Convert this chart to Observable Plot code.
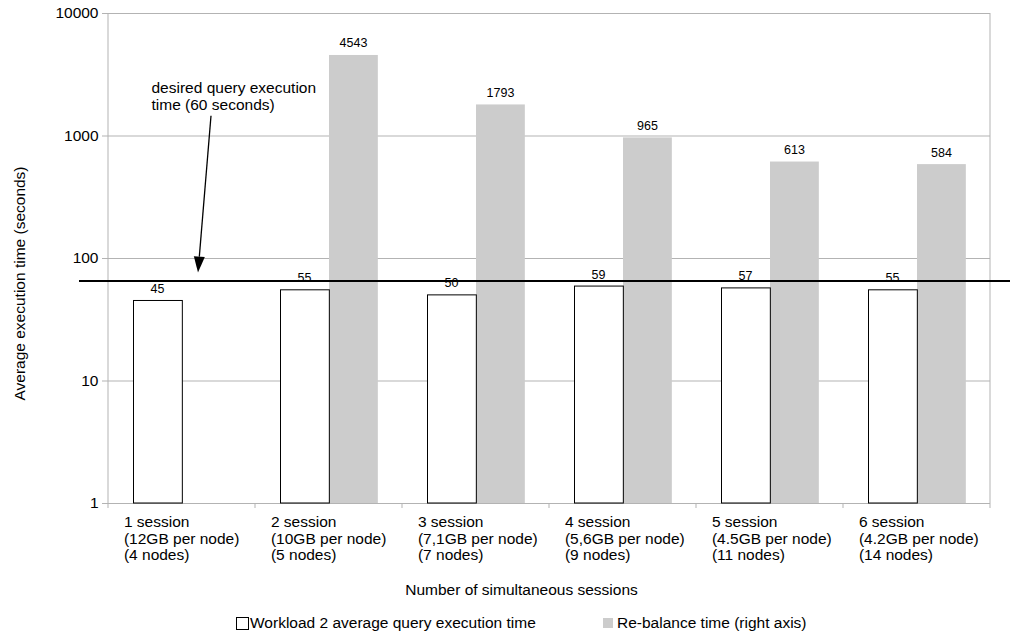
<!DOCTYPE html>
<html>
<head>
<meta charset="utf-8">
<script src="https://cdn.jsdelivr.net/npm/d3@7"></script>
<script src="https://cdn.jsdelivr.net/npm/@observablehq/plot@0.6"></script>
<style>
  html, body { margin: 0; padding: 0; background: #fff; }
  body { width: 1010px; height: 641px; overflow: hidden; font-family: "Liberation Sans", Arial, sans-serif; }
  #legend { position: relative; width: 1010px; height: 36px; font-size: 15.5px; line-height: 18px; color: #000; }
  #legend span { position: absolute; white-space: nowrap; }
</style>
</head>
<body>
<div id="chart"></div>
<div id="legend">
  <span style="left:236px;top:12px;width:11px;height:11px;border:1px solid #000;background:#fff;"></span>
  <span style="left:250px;top:9px;">Workload 2 average query execution time</span>
  <span style="left:603px;top:13px;width:10px;height:10px;background:#cccccc;"></span>
  <span style="left:617px;top:9px;">Re-balance time (right axis)</span>
</div>
<script>
const groups = [
  "1 session\n(12GB per node)\n(4 nodes)",
  "2 session\n(10GB per node)\n(5 nodes)",
  "3 session\n(7,1GB per node)\n(7 nodes)",
  "4 session\n(5,6GB per node)\n(9 nodes)",
  "5 session\n(4.5GB per node)\n(11 nodes)",
  "6 session\n(4.2GB per node)\n(14 nodes)"
];
const workload = [45, 55, 50, 59, 57, 55];
const rebalance = [null, 4543, 1793, 965, 613, 584];
const yTicks = [1, 10, 100, 1000, 10000];
const target = 65;
const yLabel = "Average execution time (seconds)";
const xLabel = "Number of simultaneous sessions";
const note = "desired query execution\ntime (60 seconds)";

const wData = groups.map((g, i) => ({group: g, value: workload[i]}));
const rData = groups.map((g, i) => ({group: g, value: rebalance[i]})).filter(d => d.value != null);

const W = 1010, H = 605;
const mL = 107, mR = 20, mT = 13, mB = 102;
const bw = (W - mL - mR) / groups.length;
const FONT = "'Liberation Sans', Arial, sans-serif";

const plot = Plot.plot({
  width: W,
  height: H,
  marginLeft: mL,
  marginRight: mR,
  marginTop: mT,
  marginBottom: mB,
  style: {fontFamily: FONT, fontSize: "15.5px", background: "#fff", color: "#000", overflow: "visible"},
  x: {domain: groups, padding: 0, axis: null},
  y: {type: "log", domain: [1, 10000], axis: null},
  marks: [
    Plot.gridY(yTicks, {stroke: "#b3b3b3", strokeOpacity: 1}),
    Plot.axisY(yTicks, {label: null, tickFormat: d => String(d), tickSize: 5, tickPadding: 4, stroke: "#b3b3b3", fill: "#000", fontSize: 15.5}),
    Plot.barY(rData, {x: "group", y1: () => 1, y2: "value", fill: "#cccccc", insetLeft: 74, insetRight: bw - 123}),
    Plot.barY(wData, {x: "group", y1: () => 1, y2: "value", fill: "#fff", stroke: "#000", strokeWidth: 1, insetLeft: 25.5, insetRight: bw - 74.5}),
    Plot.text(wData, {x: "group", y: "value", text: d => String(d.value), dx: -24.5, dy: -12, fontSize: 12.5, fill: "#000"}),
    Plot.text(rData, {x: "group", y: "value", text: d => String(d.value), dx: 24.5, dy: -12, fontSize: 12.5, fill: "#000"}),
    Plot.text(groups, {x: d => d, text: d => d, frameAnchor: "bottom", textAnchor: "start", lineAnchor: "top", lineHeight: 1.08, dx: -bw / 2 + 15.5, dy: 11.5, fontSize: 15.5, fill: "#000"}),
    Plot.text([xLabel], {text: d => d, frameAnchor: "bottom", dy: 91, dx: -27.5, fontSize: 15.5, fill: "#000"}),
    Plot.text([yLabel], {text: d => d, frameAnchor: "left", textAnchor: "middle", rotate: -90, dx: -87, dy: 25, fontSize: 15.5, fill: "#000"}),
    Plot.text([note], {text: d => d, frameAnchor: "top-left", textAnchor: "start", lineAnchor: "middle", lineHeight: 1.1, dx: 44, dy: 82.5, fontSize: 15.5, fill: "#000"})
  ]
});

document.getElementById("chart").appendChild(plot);

// Decorations drawn through the plot's own scales
const xs = plot.scale("x");
const ys = plot.scale("y");
const svg = d3.select(plot);
const left = xs.apply(groups[0]);
const right = xs.apply(groups[groups.length - 1]) + xs.bandwidth;
const yBottom = ys.apply(1);
const yTop = ys.apply(10000);

const deco = svg.append("g");
// frame edges
deco.append("line").attr("x1", left).attr("x2", left).attr("y1", yTop).attr("y2", yBottom + 5).attr("stroke", "#b3b3b3");
deco.append("line").attr("x1", right).attr("x2", right).attr("y1", yTop).attr("y2", yBottom + 5).attr("stroke", "#b3b3b3");
// category boundary ticks
for (let i = 1; i < groups.length; i++) {
  const x = xs.apply(groups[i]);
  deco.append("line").attr("x1", x).attr("x2", x).attr("y1", yBottom).attr("y2", yBottom + 5).attr("stroke", "#b3b3b3");
}
// target line
const yt = ys.apply(target);
deco.append("line").attr("x1", left - 29).attr("x2", W).attr("y1", yt).attr("y2", yt).attr("stroke", "#000").attr("stroke-width", 2);
// annotation arrow
const ax0 = left + 103, ay0 = ys.apply(1450);
const ax1 = left + 90, ay1 = ys.apply(76);
const ang = Math.atan2(ay1 - ay0, ax1 - ax0);
const hl = 16, hw = 5.5;
const bx = ax1 - hl * Math.cos(ang), by = ay1 - hl * Math.sin(ang);
const px = -Math.sin(ang) * hw, py = Math.cos(ang) * hw;
deco.append("line").attr("x1", ax0).attr("y1", ay0).attr("x2", bx).attr("y2", by).attr("stroke", "#000").attr("stroke-width", 1.3);
deco.append("polygon")
  .attr("points", `${ax1},${ay1} ${bx + px},${by + py} ${bx - px},${by - py}`)
  .attr("fill", "#000");
</script>
</body>
</html>
